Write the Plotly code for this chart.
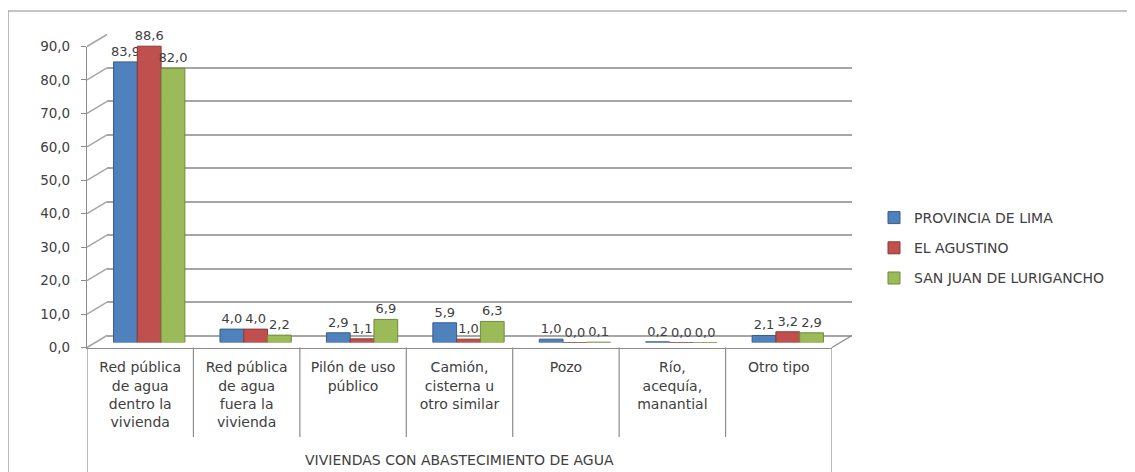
import plotly.graph_objects as go

# ── Data
categories = [
    "Red pública<br>de agua<br>dentro la<br>vivienda",
    "Red pública<br>de agua<br>fuera la<br>vivienda",
    "Pilón de uso<br>público",
    "Camión,<br>cisterna u<br>otro similar",
    "Pozo",
    "Río,<br>acequía,<br>manantial",
    "Otro tipo",
]
series_names = ["PROVINCIA DE LIMA", "EL AGUSTINO", "SAN JUAN DE LURIGANCHO"]
provincia_lima = [83.9, 4.0, 2.9, 5.9, 1.0, 0.2, 2.1]
el_agustino = [88.6, 4.0, 1.1, 1.0, 0.0, 0.0, 3.2]
san_juan = [82.0, 2.2, 6.9, 6.3, 0.1, 0.0, 2.9]
group_title = "VIVIENDAS CON ABASTECIMIENTO DE AGUA"
y_ticks = list(range(0, 91, 10))

FILL = ["#4F81BD", "#C0504D", "#9BBB59"]
EDGE = ["#385D8A", "#8C3836", "#71893F"]
TEXT = "#404040"
AXIS = "#8C8C8C"
GRIDC = "#A6A6A6"
FONT = "DejaVu Sans"

W, H = 1135, 472
OFF = 8  # the page body margin shifts the whole figure by this much


def px_x(p):
    return (p - OFF) / W


def px_y(p):
    return 1 - (p - OFF) / H


# Fake-3D geometry: front plane (axes), mid plane (bars), back wall (grid)
FX0, FX1 = 87, 832
FY0, FY90 = 347.5, 46.5
BAR_DX, BAR_DY = 9, -5
BACK_DX, BACK_DY = 20, -12
yrange = [0, 90]


def dom_x(dx):
    return [px_x(FX0 + dx), px_x(FX1 + dx)]


def dom_y(dy):
    return [px_y(FY0 + dy), px_y(FY90 + dy)]


fig = go.Figure()

# back wall subplot (gridlines only) — drawn first, so it sits underneath
fig.add_trace(go.Scatter(x=[], y=[], xaxis="x", yaxis="y", showlegend=False, hoverinfo="skip"))

for name, vals, fc, ec in zip(series_names, [provincia_lima, el_agustino, san_juan], FILL, EDGE):
    fig.add_trace(
        go.Bar(
            x=categories,
            y=vals,
            name=name,
            legendgroup=name,
            xaxis="x2",
            yaxis="y2",
            marker=dict(color=fc, line=dict(color=ec, width=1)),
            texttemplate="%{y:.1f}",
            textposition="outside",
            constraintext="none",
            textfont=dict(family=FONT, size=13, color=TEXT),
            cliponaxis=False,
        )
    )

# front plane subplot (axis lines, ticks and labels)
fig.add_trace(go.Scatter(x=[], y=[], xaxis="x3", yaxis="y3", showlegend=False, hoverinfo="skip"))

n = len(categories)
hidden = dict(visible=False)

fig.update_layout(
    width=W,
    height=H,
    autosize=False,
    margin=dict(l=0, r=0, t=0, b=0, autoexpand=False),
    paper_bgcolor="white",
    plot_bgcolor="rgba(0,0,0,0)",
    separators=",.",
    barmode="group",
    bargap=0.33,
    bargroupgap=0,
    font=dict(family=FONT, color=TEXT),
    xaxis=dict(domain=dom_x(BACK_DX), range=[-0.5, n - 0.5], type="linear",
               showgrid=False, zeroline=False, showticklabels=False, anchor="y"),
    yaxis=dict(domain=dom_y(BACK_DY), range=yrange, type="linear", tickvals=y_ticks,
               showgrid=True, gridcolor=GRIDC, gridwidth=1.8,
               zeroline=True, zerolinecolor=GRIDC, zerolinewidth=1.8,
               showticklabels=False, anchor="x"),
    xaxis2=dict(domain=dom_x(BAR_DX), range=[-0.5, n - 0.5], type="category",
                anchor="y2", **hidden),
    yaxis2=dict(domain=dom_y(BAR_DY), range=yrange, anchor="x2", **hidden),
    xaxis3=dict(domain=dom_x(0), range=[-0.5, n - 0.5], type="linear", anchor="y3",
                tickvals=list(range(n)), ticktext=categories, ticks="",
                showline=True, linecolor=AXIS, linewidth=1.2,
                showgrid=False, zeroline=False, automargin=False, ticklabelstandoff=7,
                tickfont=dict(family=FONT, size=14, color=TEXT)),
    yaxis3=dict(domain=dom_y(0), range=yrange, type="linear", anchor="x3",
                tickvals=y_ticks, tickformat=".1f", ticks="outside", ticklen=5,
                tickcolor=AXIS, showline=True, linecolor=AXIS, linewidth=1.2,
                showgrid=False, zeroline=False, ticklabelstandoff=8, automargin=False,
                tickfont=dict(family=FONT, size=13.5, color=TEXT)),
    legend=dict(x=px_x(874), y=px_y(202), xanchor="left", yanchor="top",
                font=dict(family=FONT, size=14, color=TEXT),
                tracegroupgap=9, bgcolor="rgba(0,0,0,0)"),
)

# left-wall diagonals joining the front ticks to the back gridlines
step = (FY0 - FY90) / (yrange[1] - yrange[0])
for v in y_ticks:
    fy = FY0 - v * step
    fig.add_shape(type="line", xref="paper", yref="paper",
                  x0=px_x(FX0), y0=px_y(fy), x1=px_x(FX0 + BACK_DX), y1=px_y(fy + BACK_DY),
                  line=dict(color=GRIDC, width=1.5))

# right edge of the floor
fig.add_shape(type="line", xref="paper", yref="paper",
              x0=px_x(FX1), y0=px_y(FY0), x1=px_x(FX1 + BACK_DX), y1=px_y(FY0 + BACK_DY),
              line=dict(color=AXIS, width=1.2))

# category dividers under the axis; the outer two run down past the group title
for i in range(n + 1):
    outer = i in (0, n)
    fig.add_shape(type="line", xref="x3", yref="paper",
                  x0=i - 0.5, x1=i - 0.5, y0=px_y(FY0), y1=px_y(472 if outer else 437),
                  line=dict(color=AXIS, width=1.2))

fig.add_annotation(text=group_title, xref="x3 domain", yref="paper", x=0.5, y=px_y(460),
                   yanchor="middle", showarrow=False,
                   font=dict(family=FONT, size=14, color=TEXT))

# chart frame
fig.add_shape(type="rect", xref="paper", yref="paper",
              x0=px_x(8), y0=px_y(11), x1=1.05, y1=-0.05,
              line=dict(color=AXIS, width=1.2), fillcolor="rgba(0,0,0,0)", layer="below")

fig.write_html("out.html")
